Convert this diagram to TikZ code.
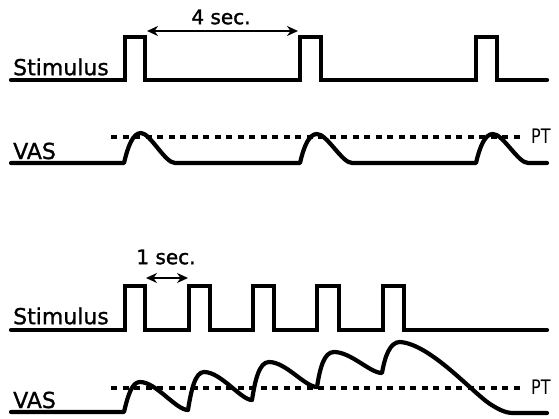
\documentclass[tikz,border=0pt]{standalone}
\usepackage{fontspec}
\setmainfont{DejaVu Sans}
\usetikzlibrary{arrows.meta}
\begin{document}
\begin{tikzpicture}[x=1pt,y=-1pt,
  signal/.style={line width=4.2pt,line cap=round,line join=miter},
  response/.style={line width=4.2pt,line cap=round,line join=round},
  threshold/.style={line width=3.2pt,dash pattern=on 6pt off 5.5pt},
  span/.style={line width=2.6pt,{Stealth[length=11pt,width=10pt]}-{Stealth[length=11pt,width=10pt]}},
  lbl/.style={font=\fontsize{22}{24}\selectfont\addfontfeatures{FakeBold=1.2},inner sep=0pt,anchor=west},
  dur/.style={font=\fontsize{20}{22}\selectfont\addfontfeatures{FakeBold=1.5},inner sep=0pt},
  ptl/.style={font=\fontsize{20}{22}\selectfont\addfontfeatures{FakeStretch=0.8},inner sep=0pt,anchor=west}]
\useasboundingbox (0,0) rectangle (559,419);

% ---------- slow stimulation: one pulse every 4 s ----------
\node[lbl] (stimA) at (13,67) {Stimulus};
\draw[signal] (11,80) -- (125,80) -- (125,37) -- (145,37) -- (145,80)
  -- (300,80) -- (300,37) -- (321,37) -- (321,80)
  -- (476,80) -- (476,37) -- (497,37) -- (497,80) -- (547,80);
\coordinate (a1) at (147,31);
\coordinate (a2) at (298,31);
\draw[span] (a1) -- (a2);
\node[dur] (fourSec) at (221,17) {4 sec.};

\node[lbl] (vasA) at (13,151) {VAS};
\coordinate (ptA1) at (111,137);
\coordinate (ptA2) at (524,137);
\draw[threshold] (ptA1) -- (ptA2);
\node[ptl] (ptA) at (531,136) {PT};
\draw[response] (11,163) -- (124,163)
  .. controls (128,146) and (133,133) .. (141,133)
  .. controls (150,133) and (165,163) .. (175,163) -- (300,163)
  .. controls (304,146) and (309,134) .. (317,134)
  .. controls (327,134) and (342,163) .. (352,163) -- (476,163)
  .. controls (480,146) and (485,134) .. (493,134)
  .. controls (503,134) and (518,163) .. (528,163) -- (547,163);

% ---------- fast stimulation: one pulse every 1 s ----------
\node[lbl] (stimB) at (13,316) {Stimulus};
\draw[signal] (11,330) -- (125,330) -- (125,286) -- (145,286) -- (145,330)
  -- (189,330) -- (189,286) -- (210,286) -- (210,330)
  -- (253,330) -- (253,286) -- (274,286) -- (274,330)
  -- (317,330) -- (317,286) -- (339,286) -- (339,330)
  -- (383,330) -- (383,286) -- (404,286) -- (404,330) -- (547,330);
\coordinate (b1) at (146,278);
\coordinate (b2) at (188,278);
\draw[span] (b1) -- (b2);
\node[dur] (oneSec) at (166,257) {1 sec.};

\node[lbl] (vasB) at (13,400) {VAS};
\coordinate (ptB1) at (111,388);
\coordinate (ptB2) at (524,388);
\draw[threshold] (ptB1) -- (ptB2);
\node[ptl] (ptB) at (531,387) {PT};
\draw[response] (11,412) -- (124,412)
  .. controls (128,395) and (132,382) .. (140,382)
  .. controls (156,382) and (176,410) .. (188,410)
  .. controls (191,391) and (195,372) .. (204,372)
  .. controls (221,372) and (241,400) .. (252,400)
  .. controls (255,381) and (259,362) .. (269,362)
  .. controls (286,362) and (305,387) .. (317,387)
  .. controls (320,368) and (324,352) .. (334,352)
  .. controls (351,352) and (370,373) .. (382,373)
  .. controls (385,356) and (390,342) .. (400,342)
  .. controls (430,344) and (472,392) .. (490,404)
  .. controls (498,409) and (505,413) .. (513,413) -- (547,413);
\end{tikzpicture}
\end{document}
